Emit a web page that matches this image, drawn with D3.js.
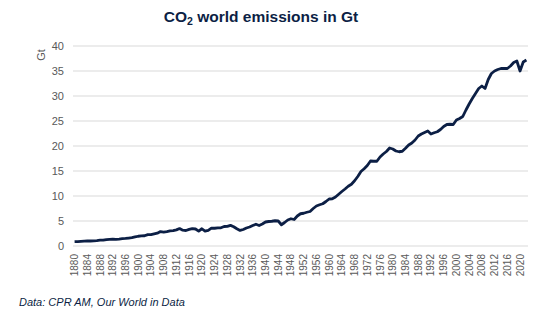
<!DOCTYPE html>
<html>
<head>
<meta charset="utf-8">
<script src="https://cdn.jsdelivr.net/npm/d3@7"></script>
<style>
  body { margin: 0; background: #fff; }
  text { font-family: "Liberation Sans", Arial, sans-serif; }
</style>
</head>
<body>
<div id="chart"></div>
<script>
// annual world CO2 emissions, Gt
var years = d3.range(1880, 2023);
var emissions = [
  0.86, 0.88, 0.93, 0.99, 1.00, 1.00, 1.02, 1.07, 1.16, 1.16,   // 1880s
  1.29, 1.34, 1.36, 1.34, 1.39, 1.48, 1.51, 1.58, 1.66, 1.81,   // 1890s
  1.95, 2.01, 2.05, 2.27, 2.28, 2.43, 2.56, 2.89, 2.79, 2.89,   // 1900s
  3.03, 3.07, 3.22, 3.49, 3.16, 3.10, 3.33, 3.49, 3.40, 2.98,   // 1910s
  3.45, 2.97, 3.12, 3.56, 3.55, 3.63, 3.64, 3.90, 3.92, 4.13,   // 1920s
  3.86, 3.46, 3.12, 3.30, 3.60, 3.80, 4.10, 4.35, 4.10, 4.40,   // 1930s
  4.80, 4.90, 4.95, 5.05, 5.00, 4.25, 4.70, 5.20, 5.45, 5.30,   // 1940s
  6.00, 6.45, 6.55, 6.75, 6.90, 7.50, 8.00, 8.25, 8.45, 8.90,   // 1950s
  9.40, 9.45, 9.80, 10.35, 10.90, 11.40, 11.95, 12.35, 13.05, 13.90, // 1960s
  14.90, 15.45, 16.10, 17.00, 16.95, 16.95, 17.80, 18.40, 18.90, 19.60, // 1970s
  19.40, 19.00, 18.85, 18.95, 19.55, 20.20, 20.60, 21.20, 22.00, 22.40, // 1980s
  22.70, 23.00, 22.40, 22.65, 22.85, 23.30, 23.90, 24.30, 24.35, 24.30, // 1990s
  25.20, 25.50, 25.90, 27.20, 28.40, 29.50, 30.50, 31.50, 32.00, 31.50, // 2000s
  33.30, 34.50, 35.00, 35.30, 35.50, 35.50, 35.50, 36.00, 36.70, 37.00, // 2010s
  35.00, 36.80, 37.20                                                   // 2020s
];
var yTicks = [0, 5, 10, 15, 20, 25, 30, 35, 40];
var xTickYears = years.filter(function(y) { return (y - 1880) % 4 == 0; });

var data = years.map(function(y, i) { return {year: y, value: emissions[i]}; });

var width = 555, height = 322;
var margin = {top: 46, right: 27, bottom: 76, left: 73};

var svg = d3.select("#chart").append("svg")
  .attr("width", width)
  .attr("height", height);

var x = d3.scaleBand()
  .domain(years)
  .range([margin.left, width - margin.right]);

var y = d3.scaleLinear()
  .domain([0, 40])
  .range([height - margin.bottom, margin.top]);

var cx = function(d) { return x(d) + x.bandwidth() / 2; };

// horizontal gridlines
svg.append("g")
  .selectAll("line")
  .data(yTicks)
  .enter().append("line")
  .attr("x1", margin.left)
  .attr("x2", width - margin.right)
  .attr("y1", function(d) { return y(d); })
  .attr("y2", function(d) { return y(d); })
  .attr("stroke", "#d9d9d9")
  .attr("stroke-width", 1);

// y axis labels
var yAxis = svg.append("g")
  .attr("transform", "translate(" + (margin.left - 9) + ",0)")
  .call(d3.axisLeft(y).tickValues(yTicks).tickSize(0).tickPadding(0));
yAxis.select(".domain").remove();
yAxis.selectAll("text")
  .attr("fill", "#595959")
  .style("font-size", "11px");

// x axis labels, every fourth year
var xAxis = svg.append("g")
  .attr("transform", "translate(0," + (height - margin.bottom) + ")")
  .call(d3.axisBottom(x).tickValues(xTickYears).tickSize(0));
xAxis.select(".domain").remove();
xAxis.selectAll("text")
  .attr("fill", "#595959")
  .style("font-size", "10px")
  .attr("text-anchor", "end")
  .attr("transform", "rotate(-90)")
  .attr("x", -8)
  .attr("y", 0)
  .attr("dy", "0.35em");

// emissions line
var line = d3.line()
  .x(function(d) { return cx(d.year); })
  .y(function(d) { return y(d.value); });

svg.append("path")
  .datum(data)
  .attr("fill", "none")
  .attr("stroke", "#0c1f45")
  .attr("stroke-width", 2.8)
  .attr("stroke-linejoin", "round")
  .attr("d", line);

// y axis title
svg.append("text")
  .attr("transform", "translate(45,55) rotate(-90)")
  .attr("text-anchor", "middle")
  .attr("fill", "#595959")
  .style("font-size", "11px")
  .text("Gt");

// chart title with subscript
var title = svg.append("text")
  .attr("x", 261)
  .attr("y", 22)
  .attr("text-anchor", "middle")
  .attr("fill", "#0c1f45")
  .style("font-size", "15.5px")
  .style("font-weight", "bold");
title.append("tspan").text("CO");
title.append("tspan").attr("dy", 3).style("font-size", "10.5px").text("2");
title.append("tspan").attr("dy", -3).text(" world emissions in Gt");

// source note
svg.append("text")
  .attr("x", 19)
  .attr("y", 306)
  .attr("fill", "#0c1f45")
  .style("font-size", "11px")
  .style("font-style", "italic")
  .text("Data: CPR AM, Our World in Data");
</script>
</body>
</html>
